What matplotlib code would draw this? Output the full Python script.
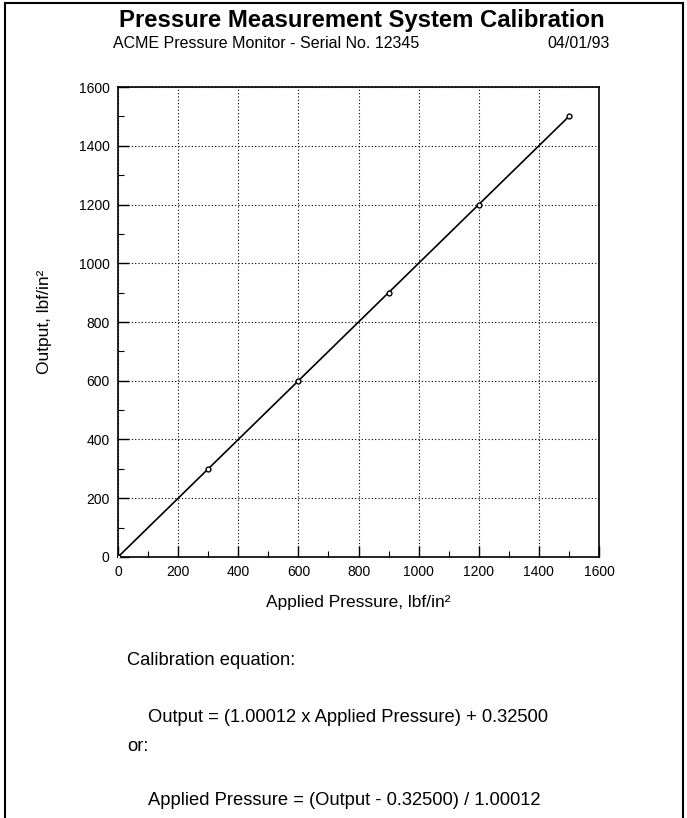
import matplotlib
matplotlib.use("Agg")
import matplotlib.pyplot as plt
from matplotlib.lines import Line2D
from matplotlib.ticker import MultipleLocator

plt.rcParams['font.family'] = ['Liberation Sans', 'DejaVu Sans']

# calibration points
applied = [0, 300, 600, 900, 1200, 1500]
output = [0, 300, 600, 900, 1200, 1500]
ticks = [0, 200, 400, 600, 800, 1000, 1200, 1400, 1600]

fig = plt.figure(figsize=(6.87, 8.18), dpi=100)
ax = fig.add_axes([0.1718, 0.3191, 0.7001, 0.5745])

ax.plot(applied, output, color='black', lw=1.2, marker='o', ms=3.5,
        mfc='white', mec='black', mew=1.0, zorder=3)

ax.set_xlim(0, 1600)
ax.set_ylim(0, 1600)
ax.set_xticks(ticks)
ax.set_yticks(ticks)
ax.xaxis.set_minor_locator(MultipleLocator(100))
ax.yaxis.set_minor_locator(MultipleLocator(100))
ax.tick_params(which='major', direction='in', length=8, width=1, labelsize=10, pad=6)
ax.tick_params(which='minor', direction='in', length=4, width=0.8)
ax.grid(True, which='major', color='black', linestyle=(0, (1, 2)), lw=0.8)
for s in ax.spines.values():
    s.set_linewidth(1.2)

ax.set_xlabel('Applied Pressure, lbf/in²', fontsize=12.5, labelpad=11)
ax.set_ylabel('Output, lbf/in²', fontsize=12.5, labelpad=19)

fig.text(0.527, 0.975, 'Pressure Measurement System Calibration', ha='center',
         va='center', fontsize=17.2, fontweight='bold')
fig.text(0.165, 0.947, 'ACME Pressure Monitor - Serial No. 12345', ha='left',
         va='center', fontsize=11.5)
fig.text(0.887, 0.947, '04/01/93', ha='right', va='center', fontsize=11.5)

fig.text(0.185, 0.193, 'Calibration equation:', ha='left', va='center', fontsize=13.2)
fig.text(0.215, 0.123, 'Output = (1.00012 x Applied Pressure) + 0.32500',
         ha='left', va='center', fontsize=13.2)
fig.text(0.185, 0.088, 'or:', ha='left', va='center', fontsize=13.2)
fig.text(0.215, 0.022, 'Applied Pressure = (Output - 0.32500) / 1.00012',
         ha='left', va='center', fontsize=13.2)

# page frame
bx0, bx1, by = 5 / 687, 683 / 687, 1 - 3 / 818
for xs, ys in [([bx0, bx0], [0, by]), ([bx1, bx1], [0, by]), ([bx0, bx1], [by, by])]:
    fig.add_artist(Line2D(xs, ys, transform=fig.transFigure, color='black', lw=1.5))

fig.savefig('out.png', dpi=100)
